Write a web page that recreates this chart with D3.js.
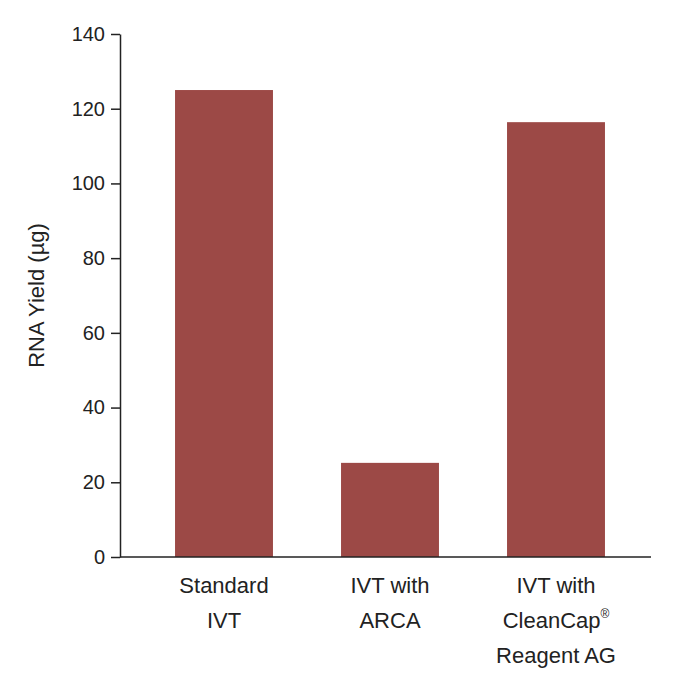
<!DOCTYPE html>
<html><head><meta charset="utf-8">
<script src="https://cdn.jsdelivr.net/npm/d3@7"></script>
<style>body{margin:0;background:#fff}text{font-family:"Liberation Sans",Arial,sans-serif}</style>
</head><body>
<svg id="chart" width="691" height="692"></svg>
<script>
const categories = ["Standard IVT", "IVT with ARCA", "IVT with CleanCap Reagent AG"];
const labelLines = [["Standard", "IVT"], ["IVT with", "ARCA"], ["IVT with", "CleanCap®", "Reagent AG"]];
const yields = [125, 25.2, 116.4];
const yTicks = [0, 20, 40, 60, 80, 100, 120, 140];

const svg = d3.select("#chart");
const plotLeft = 120, plotRight = 651, plotTop = 34, plotBottom = 557;

const x = d3.scaleBand().domain(categories).range([141, 639]).paddingInner(0.41).paddingOuter(0.205);
const y = d3.scaleLinear().domain([0, 140]).range([plotBottom, plotTop]);

svg.append("g").selectAll("rect").data(categories).enter().append("rect")
  .attr("x", d => x(d))
  .attr("width", x.bandwidth())
  .attr("y", (d, i) => y(yields[i]))
  .attr("height", (d, i) => plotBottom - y(yields[i]))
  .attr("fill", "#9c4946");

const yAxis = svg.append("g").attr("transform", "translate(" + plotLeft + ",0)")
  .call(d3.axisLeft(y).tickValues(yTicks).tickSize(9).tickSizeOuter(0).tickPadding(6));
yAxis.selectAll("text").attr("font-size", 20).attr("fill", "#222");
yAxis.selectAll("line,path").attr("stroke", "#222").attr("stroke-width", 1.5);

svg.append("line").attr("x1", plotLeft).attr("x2", plotRight).attr("y1", plotBottom).attr("y2", plotBottom)
  .attr("stroke", "#222").attr("stroke-width", 1.5);

svg.append("text")
  .attr("transform", "translate(44," + ((plotTop + plotBottom) / 2) + ") rotate(-90)")
  .attr("text-anchor", "middle").attr("font-size", 22).attr("fill", "#222")
  .text("RNA Yield (µg)");

const lab = svg.append("g").selectAll("text").data(categories).enter().append("text")
  .attr("text-anchor", "middle").attr("font-size", 22).attr("fill", "#222")
  .attr("x", d => x(d) + x.bandwidth() / 2);
lab.each(function(d, i) {
  const t = d3.select(this);
  labelLines[i].forEach((ln, j) => {
    const ts = t.append("tspan").attr("x", x(d) + x.bandwidth() / 2).attr("y", 593 + j * 35);
    if (ln.endsWith("®")) {
      ts.text(ln.slice(0, -1));
      ts.append("tspan").attr("font-size", 12).attr("dy", -10).text("®");
    } else ts.text(ln);
  });
});
</script>
</body></html>
